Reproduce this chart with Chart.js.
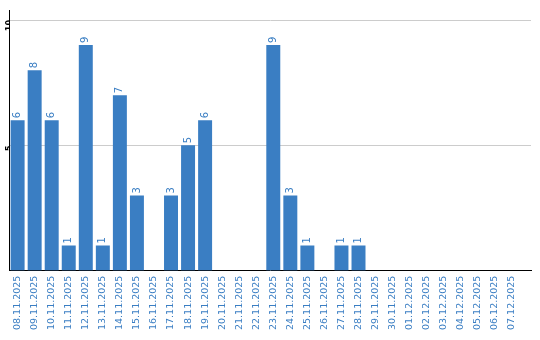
<!DOCTYPE html>
<html>
<head>
<meta charset="utf-8">
<script src="https://cdn.jsdelivr.net/npm/chart.js@4/dist/chart.umd.min.js"></script>
<style>
  html, body { margin: 0; padding: 0; background: #fff; }
  #wrap { width: 540px; height: 340px; }
</style>
</head>
<body>
<div id="wrap"><canvas id="chart"></canvas></div>
<script>
const days = [
  "08.11.2025", "09.11.2025", "10.11.2025", "11.11.2025", "12.11.2025",
  "13.11.2025", "14.11.2025", "15.11.2025", "16.11.2025", "17.11.2025",
  "18.11.2025", "19.11.2025", "20.11.2025", "21.11.2025", "22.11.2025",
  "23.11.2025", "24.11.2025", "25.11.2025", "26.11.2025", "27.11.2025",
  "28.11.2025", "29.11.2025", "30.11.2025", "01.12.2025", "02.12.2025",
  "03.12.2025", "04.12.2025", "05.12.2025", "06.12.2025", "07.12.2025"
];
const counts = [6, 8, 6, 1, 9, 1, 7, 3, 0, 3, 5, 6, 0, 0, 0, 9, 3, 1, 0, 1, 1, 0, 0, 0, 0, 0, 0, 0, 0, 0];
const yTicks = [5, 10];

const blue = "#3a7ec3";

// value labels above each bar, turned to read upward
const barLabels = {
  id: "barLabels",
  afterDatasetsDraw(chart) {
    const ctx = chart.ctx;
    const meta = chart.getDatasetMeta(0);
    ctx.save();
    ctx.fillStyle = blue;
    ctx.font = "10px 'DejaVu Sans'";
    ctx.textAlign = "left";
    ctx.textBaseline = "middle";
    meta.data.forEach((bar, i) => {
      if (!counts[i]) return;
      ctx.save();
      ctx.translate(bar.x, bar.y - 2);
      ctx.rotate(-Math.PI / 2);
      ctx.fillText(String(counts[i]), 0, 0);
      ctx.restore();
    });
    ctx.restore();
  }
};

new Chart(document.getElementById("chart"), {
  type: "bar",
  data: {
    datasets: [{
      data: counts.map((v, i) => ({ x: i, y: v })),
      backgroundColor: blue,
      borderWidth: 0,
      barPercentage: 0.82,
      categoryPercentage: 1
    }]
  },
  options: {
    responsive: true,
    maintainAspectRatio: false,
    animation: false,
    layout: { autoPadding: false, padding: { left: 0, right: 9, top: 10, bottom: 5 } },
    plugins: {
      legend: { display: false },
      tooltip: { enabled: false }
    },
    scales: {
      x: {
        type: "linear",
        offset: false,
        min: -0.47,
        max: 30.12,
        afterBuildTicks: (scale) => {
          scale.ticks = days.map((d, i) => ({ value: i }));
        },
        grid: { display: false, drawTicks: false, offset: false },
        border: { display: true, color: "#000", width: 1 },
        ticks: {
          autoSkip: false,
          minRotation: 90,
          maxRotation: 90,
          padding: 5,
          color: blue,
          font: { family: "DejaVu Sans", size: 9.5 },
          callback: (v) => days[v]
        }
      },
      y: {
        min: 0,
        max: 10.4,
        afterBuildTicks: (scale) => {
          scale.ticks = yTicks.map((v) => ({ value: v }));
        },
        grid: { color: "#cccccc", lineWidth: 1, drawTicks: false },
        border: { display: true, color: "#000", width: 1 },
        ticks: {
          minRotation: 90,
          maxRotation: 90,
          padding: 0,
          color: "#000",
          font: { family: "DejaVu Sans", size: 8, weight: "bold" }
        }
      }
    }
  },
  plugins: [barLabels]
});
</script>
</body>
</html>
